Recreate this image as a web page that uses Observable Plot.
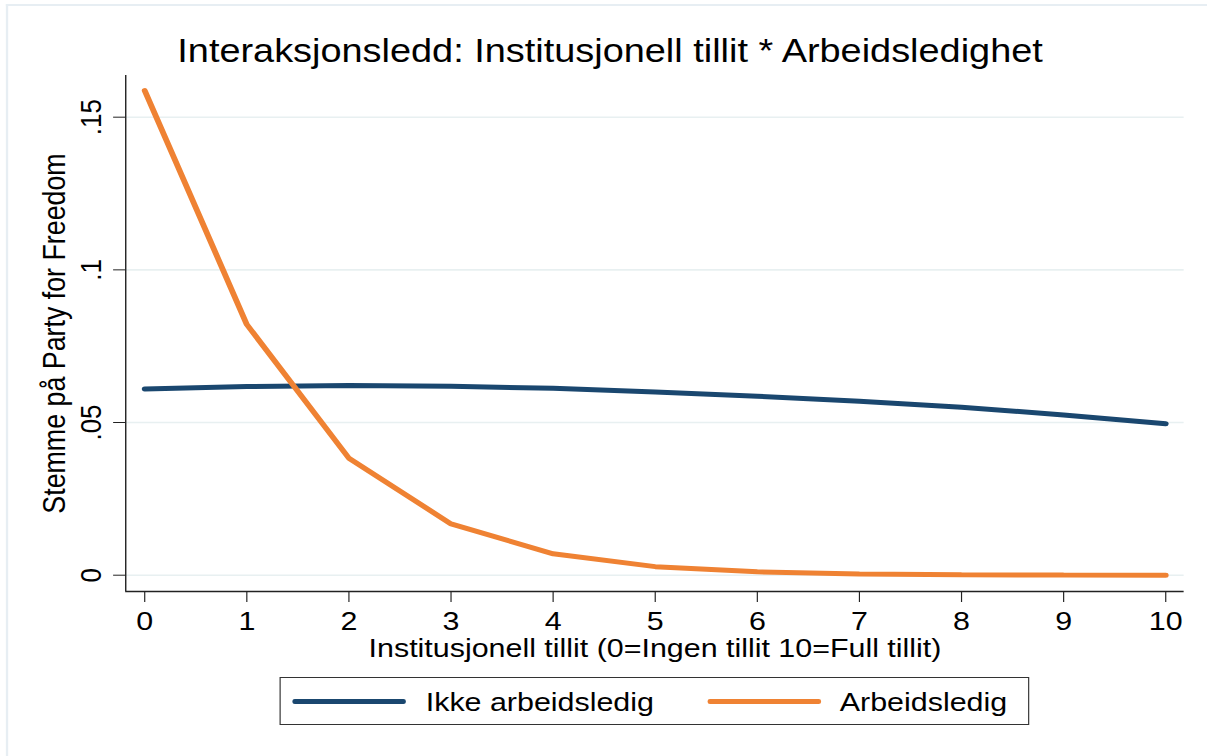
<!DOCTYPE html>
<html><head><meta charset="utf-8">
<script src="https://cdn.jsdelivr.net/npm/d3@7"></script>
<script src="https://cdn.jsdelivr.net/npm/@observablehq/plot@0.6"></script>
<style>
html,body{margin:0;padding:0;background:#fff;overflow:hidden;}
#page{position:relative;width:1032px;height:756px;transform:scaleX(1.1696);transform-origin:0 0;font-family:"Liberation Sans",Arial,Helvetica,sans-serif;color:#000;}
#border{position:absolute;left:5px;top:4px;width:1100px;height:800px;border-top:2px solid #e7eef3;border-left:2px solid #e7eef3;}
#title{position:absolute;left:5.6px;top:35px;width:1032px;text-align:center;font-size:32.4px;line-height:32px;white-space:nowrap;}
#chart{position:absolute;left:0;top:50px;}
#legend{position:absolute;left:239px;top:677px;width:641px;height:48px;box-sizing:border-box;border:1.4px solid #333;}
.sw{position:absolute;height:5px;border-radius:2px;}
.lt{position:absolute;font-size:26px;line-height:26px;white-space:nowrap;}
</style></head><body>
<div id="page">
  <div id="border"></div>
  <div id="title">Interaksjonsledd: Institusjonell tillit * Arbeidsledighet</div>
  <div id="chart"></div>
  <div id="legend"></div>
</div>
<script>
// ---- data ----
const trust = [0, 1, 2, 3, 4, 5, 6, 7, 8, 9, 10];
const ikkeArbeidsledig = [0.0610, 0.0618, 0.0621, 0.0619, 0.0612, 0.0600, 0.0586, 0.0570, 0.0550, 0.0525, 0.0496];
const arbeidsledig = [0.1587, 0.0821, 0.0383, 0.0168, 0.0070, 0.0028, 0.0011, 0.0004, 0.00015, 0.00005, 0.00002];
const seriesNames = ["Ikke arbeidsledig", "Arbeidsledig"];
const seriesColors = ["#1a476f", "#ef8233"];
const xTicks = [0, 1, 2, 3, 4, 5, 6, 7, 8, 9, 10];
const yTicks = [0, 0.05, 0.1, 0.15];
const yTickLabels = ["0", ".05", ".1", ".15"];
const xTitle = "Institusjonell tillit (0=Ingen tillit 10=Full tillit)";
const yTitle = "Stemme på Party for Freedom";
const xDomain = [-0.186, 10.181];
const yDomain = [-0.00534, 0.16365];

const rows = [];
const seriesValues = [ikkeArbeidsledig, arbeidsledig];
seriesNames.forEach((name, s) => {
  trust.forEach((t, i) => rows.push({series: name, x: t, y: seriesValues[s][i]}));
});

const chart = Plot.plot({
  width: 1032,
  height: 621,
  marginTop: 25,
  marginBottom: 80,
  marginLeft: 107,
  marginRight: 20,
  style: {fontFamily: '"Liberation Sans", Arial, Helvetica, sans-serif', background: "transparent", overflow: "visible", color: "#000"},
  x: {domain: xDomain},
  y: {domain: yDomain},
  color: {domain: seriesNames, range: seriesColors},
  marks: [
    Plot.ruleY(yTicks, {stroke: "#e8f0f1", strokeWidth: 1.6}),
    Plot.ruleX([xDomain[0]], {stroke: "#222", strokeWidth: 1.2}),
    Plot.ruleY([yDomain[0]], {stroke: "#222", strokeWidth: 1.4}),
    Plot.axisX({ticks: xTicks, tickSize: 11, tickPadding: 9, fontSize: 26, tickFormat: d => String(d), label: null, stroke: "#222"}),
    Plot.axisY({ticks: yTicks, tickSize: 10.3, tickFormat: () => "", label: null, stroke: "#222"}),
    Plot.text(yTicks, {y: d => d, text: (d, i) => yTickLabels[i], frameAnchor: "left", rotate: -90, textAnchor: "middle", lineAnchor: "bottom", dx: -21.5, fontSize: 26}),
    Plot.text([yTitle], {text: d => d, frameAnchor: "left", rotate: -90, textAnchor: "middle", lineAnchor: "bottom", dx: -51.6, fontSize: 26.8}),
    Plot.text([xTitle], {text: d => d, frameAnchor: "bottom", lineAnchor: "bottom", dy: 65.7, fontSize: 26}),
    Plot.line(rows, {x: "x", y: "y", z: "series", stroke: "series", strokeWidth: 5, strokeLinecap: "round", strokeLinejoin: "miter"})
  ]
});
document.getElementById("chart").appendChild(chart);

// ---- legend (HTML, below the SVG) ----
const legend = document.getElementById("legend");
const swLeft = [10, 365];
const txLeft = [124, 478];
seriesNames.forEach((name, i) => {
  const sw = document.createElement("div");
  sw.className = "sw";
  sw.style.left = swLeft[i] + "px";
  sw.style.width = "97px";
  sw.style.top = "20.5px";
  sw.style.background = seriesColors[i];
  legend.appendChild(sw);
  const tx = document.createElement("div");
  tx.className = "lt";
  tx.style.left = txLeft[i] + "px";
  tx.style.top = "11px";
  tx.textContent = name;
  legend.appendChild(tx);
});
</script>
</body></html>
